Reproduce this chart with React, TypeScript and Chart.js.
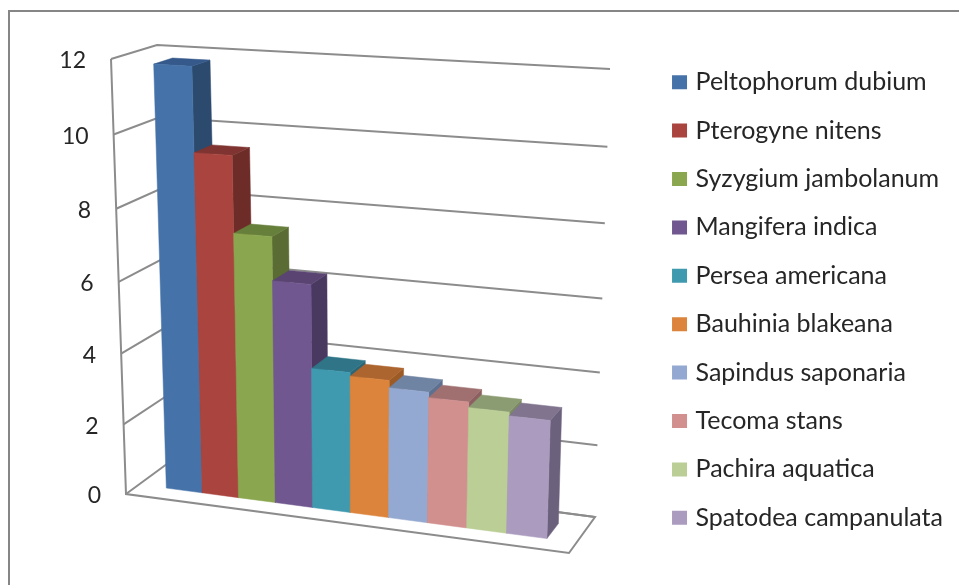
import React, { useEffect, useRef } from "react";
import { Chart, registerables } from "chart.js";

Chart.register(...registerables);

const species = ["Peltophorum dubium", "Pterogyne nitens", "Syzygium jambolanum", "Mangifera indica", "Persea americana", "Bauhinia blakeana", "Sapindus saponaria", "Tecoma stans", "Pachira aquatica", "Spatodea campanulata"];
const values = [11.8, 9.5, 7.4, 6.2, 3.9, 3.8, 3.6, 3.45, 3.3, 3.2];
const frontColors = ["#4572A9", "#A9443F", "#8AA64E", "#70578F", "#3F9AB0", "#DC843B", "#94A9D1", "#D18F8E", "#BACE96", "#AA9BBF"];
const topColors = ["#35598A", "#7F3431", "#667F3A", "#5A4472", "#2F7587", "#AD652F", "#6F83A2", "#A07070", "#8C9C72", "#80748F"];
const sideColors = ["#2C4A6E", "#6E2C29", "#5A6C33", "#493960", "#2A6676", "#9C5A24", "#5E7090", "#8C6060", "#7A8A62", "#6C617C"];
const yTicks = { min: 0, max: 12, stepSize: 2 };

// 3D box of the plot in canvas space
const BOX = {
  f0: [126, 494], f1: [569, 553], b0: [171, 461], b1: [595, 517],
  ft0: [111, 59], ft1: [584, 86], bt0: [157, 45], bt1: [610, 69],
};
const PERSPECTIVE_V = 0.05;
const PERSPECTIVE_U = 0.08;
const BAR_SHIFT = 0.002;
const BAR_DEPTH = [0.29, 0.71];

function project(u: number, level: number, depth: number): [number, number] {
  const k = PERSPECTIVE_V;
  const v = level / (level + (1 - level) * (1 + k));
  const ku = PERSPECTIVE_U;
  const uu = u / (u + (1 - u) * (1 + ku));
  const mix = (a: number, b: number, t: number) => a + (b - a) * t;
  const out: number[] = [];
  for (const c of [0, 1]) {
    const f0 = mix(BOX.f0[c], BOX.ft0[c], v);
    const f1 = mix(BOX.f1[c], BOX.ft1[c], v);
    const b0 = mix(BOX.b0[c], BOX.bt0[c], v);
    const b1 = mix(BOX.b1[c], BOX.bt1[c], v);
    out.push(mix(mix(f0, f1, uu), mix(b0, b1, uu), depth));
  }
  return [out[0], out[1]];
}

function poly(ctx: CanvasRenderingContext2D, pts: [number, number][], fill: string) {
  ctx.beginPath();
  pts.forEach((p, i) => (i ? ctx.lineTo(p[0], p[1]) : ctx.moveTo(p[0], p[1])));
  ctx.closePath();
  ctx.fillStyle = fill;
  ctx.fill();
  ctx.strokeStyle = fill;
  ctx.lineWidth = 0.5;
  ctx.stroke();
}

function line(ctx: CanvasRenderingContext2D, pts: [number, number][]) {
  ctx.beginPath();
  pts.forEach((p, i) => (i ? ctx.lineTo(p[0], p[1]) : ctx.moveTo(p[0], p[1])));
  ctx.stroke();
}

const perspectivePlugin = {
  id: "perspective",
  beforeDraw(chart: any) {
    const { ctx, width, height } = chart;
    ctx.save();
    ctx.fillStyle = "#ffffff";
    ctx.fillRect(0, 0, width, height);
    ctx.strokeStyle = "#868686";
    ctx.lineWidth = 2;
    line(ctx, [[9, height], [9, 11], [width, 11]]);
    ctx.restore();
  },
  beforeDatasetsDraw(chart: any) {
    const { ctx, chartArea, scales } = chart;
    const W = chartArea.right - chartArea.left;
    const H = chartArea.bottom - chartArea.top;
    const lv = (py: number) => (chartArea.bottom - py) / H;
    ctx.save();
    ctx.strokeStyle = "#8c8c8c";
    ctx.lineWidth = 2;
    ctx.lineJoin = "miter";
    for (const t of scales.y.ticks) {
      const l = lv(scales.y.getPixelForValue(t.value));
      line(ctx, [project(0, l, 0), project(0, l, 1), project(1, l, 1)]);
      const p = project(0, l, 0);
      ctx.fillStyle = "#262626";
      ctx.font = "23px Lato";
      ctx.textAlign = "right";
      ctx.textBaseline = "middle";
      ctx.fillText(String(t.value), p[0] - 25, p[1] + 2);
    }
    line(ctx, [project(0, 1, 0), project(0, 0, 0), project(1, 0, 0), project(1, 0, 1), project(0, 0, 1)]);

    const [d0, d1] = BAR_DEPTH;
    species.forEach((_, i) => {
      const el = chart.getDatasetMeta(i).data[0];
      const u0 = (el.x - el.width / 2 - chartArea.left) / W + BAR_SHIFT;
      const u1 = (el.x + el.width / 2 - chartArea.left) / W + BAR_SHIFT;
      const top = lv(el.y);
      const base = lv(el.base);
      poly(ctx, [project(u1, base, d0), project(u1, base, d1), project(u1, top, d1), project(u1, top, d0)], sideColors[i]);
      poly(ctx, [project(u0, top, d0), project(u1, top, d0), project(u1, top, d1), project(u0, top, d1)], topColors[i]);
      poly(ctx, [project(u0, base, d0), project(u1, base, d0), project(u1, top, d0), project(u0, top, d0)], frontColors[i]);
    });
    ctx.restore();
    return false;
  },
};

export default function App() {
  const ref = useRef<HTMLCanvasElement>(null);
  useEffect(() => {
    document.body.style.margin = "0";
    const chart = new Chart(ref.current!, {
      type: "bar",
      data: {
        labels: [""],
        datasets: species.map((label, i) => ({
          label,
          data: [values[i]],
          backgroundColor: frontColors[i],
          borderColor: frontColors[i],
          borderWidth: 8,
        })),
      },
      options: {
        responsive: false,
        animation: false,
        layout: { padding: { top: 15, right: 6 } },
        datasets: { bar: { barPercentage: 1, categoryPercentage: 0.87 } },
        scales: {
          x: { display: false },
          y: { display: false, min: yTicks.min, max: yTicks.max, ticks: { stepSize: yTicks.stepSize } },
        },
        plugins: {
          tooltip: { enabled: false },
          title: { display: false },
          legend: {
            position: "right",
            onClick: () => {},
            labels: {
              boxWidth: 7,
              boxHeight: 6,
              padding: 23.4,
              color: "#262626",
              font: { family: "Lato", size: 25 },
            },
          },
        },
      },
      plugins: [perspectivePlugin],
    } as any);
    return () => chart.destroy();
  }, []);
  return (
    <div style={{ width: 959, height: 585, background: "#fff", overflow: "hidden" }}>
      <canvas ref={ref} width={959} height={585} style={{ display: "block", filter: "blur(0.4px)" }} />
    </div>
  );
}
